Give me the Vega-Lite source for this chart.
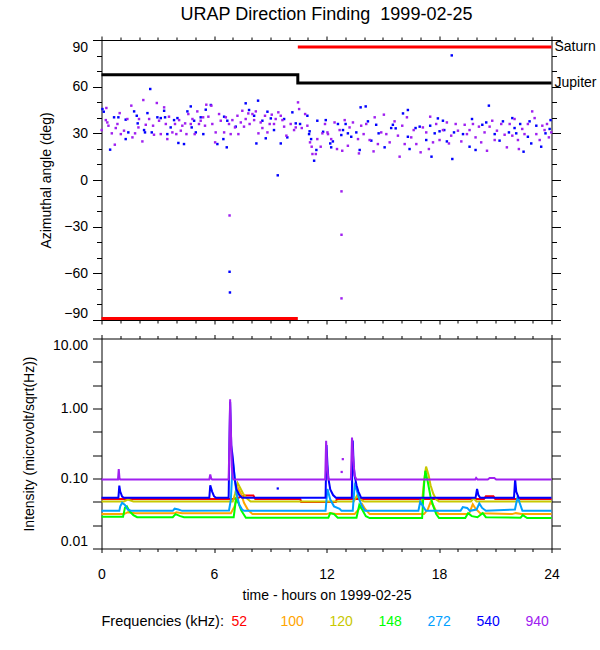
{
"$schema": "https://vega.github.io/schema/vega-lite/v6.json",
"padding": {"left": 21.5, "top": 5, "right": 0, "bottom": 5},
"config": {
  "font": "Liberation Sans",
  "view": {"stroke": "black", "strokeWidth": 1},
  "axis": {"labelFont": "Liberation Sans", "labelFontSize": 14, "labelColor": "black", "titleFont": "Liberation Sans", "titleFontSize": 14, "titleFontWeight": "normal", "titleColor": "black", "tickColor": "black", "tickWidth": 1, "domain": false, "grid": false},
  "title": {"font": "Liberation Sans", "fontSize": 18, "fontWeight": "normal", "color": "black"}
},
"resolve": {"legend": {"color": "independent"}},
"spacing": 8.5,
"datasets": {
  "df": [
{"t":0.05,"a":45.6,"f":540},{"t":0.12,"a":43.9,"f":540},{"t":0.46,"a":19.5,"f":540},{"t":0.67,"a":40.3,"f":540},{"t":0.9,"a":40.3,"f":540},{"t":1.29,"a":38.8,"f":540},{"t":1.29,"a":26.3,"f":540},{"t":1.43,"a":30.6,"f":540},{"t":1.74,"a":44.1,"f":540},{"t":1.88,"a":41.3,"f":540},{"t":1.93,"a":36.4,"f":540},{"t":2.27,"a":32.1,"f":540},{"t":2.32,"a":30.6,"f":540},{"t":2.45,"a":43,"f":540},{"t":2.6,"a":58.5,"f":540},{"t":2.68,"a":30.6,"f":540},{"t":2.98,"a":40.3,"f":540},{"t":3.16,"a":39.8,"f":540},{"t":3.34,"a":44.5,"f":540},{"t":3.39,"a":40.3,"f":540},{"t":3.51,"a":29.5,"f":540},{"t":3.69,"a":33.8,"f":540},{"t":3.87,"a":38.5,"f":540},{"t":4.05,"a":39.8,"f":540},{"t":4.1,"a":23.8,"f":540},{"t":4.4,"a":23.1,"f":540},{"t":4.58,"a":44.1,"f":540},{"t":4.76,"a":47.3,"f":540},{"t":4.81,"a":33.8,"f":540},{"t":4.94,"a":38.1,"f":540},{"t":5.03,"a":30.6,"f":540},{"t":5.29,"a":40.3,"f":540},{"t":5.43,"a":29.5,"f":540},{"t":5.56,"a":45.2,"f":540},{"t":5.83,"a":48.2,"f":540},{"t":6.18,"a":23.1,"f":540},{"t":6.5,"a":26.3,"f":540},{"t":6.54,"a":40.7,"f":540},{"t":6.68,"a":21,"f":540},{"t":6.71,"a":38.1,"f":540},{"t":6.83,"a":-59,"f":540},{"t":6.85,"a":-72.3,"f":540},{"t":7.16,"a":34.3,"f":540},{"t":7.69,"a":49.3,"f":540},{"t":7.87,"a":45,"f":540},{"t":8.14,"a":41.3,"f":540},{"t":8.26,"a":23.5,"f":540},{"t":8.35,"a":51,"f":540},{"t":8.58,"a":38.1,"f":540},{"t":8.76,"a":26.8,"f":540},{"t":8.85,"a":43.9,"f":540},{"t":9.03,"a":39.6,"f":540},{"t":9.2,"a":32.1,"f":540},{"t":9.4,"a":3,"f":540},{"t":9.56,"a":23.5,"f":540},{"t":9.74,"a":39.2,"f":540},{"t":9.91,"a":27.4,"f":540},{"t":10.18,"a":43.5,"f":540},{"t":10.36,"a":36.4,"f":540},{"t":10.59,"a":36,"f":540},{"t":10.98,"a":41.3,"f":540},{"t":11.07,"a":29.5,"f":540},{"t":11.1,"a":31.3,"f":540},{"t":11.18,"a":26.3,"f":540},{"t":11.34,"a":12.4,"f":540},{"t":11.46,"a":19.3,"f":540},{"t":11.51,"a":38.1,"f":540},{"t":11.82,"a":31,"f":540},{"t":11.96,"a":38.5,"f":540},
{"t":12.2,"a":23.5,"f":540},{"t":12.25,"a":21,"f":540},{"t":12.34,"a":24.8,"f":540},{"t":12.61,"a":36,"f":540},{"t":12.79,"a":28.9,"f":540},{"t":12.88,"a":32.1,"f":540},{"t":13.02,"a":36,"f":540},{"t":13.14,"a":30,"f":540},{"t":13.32,"a":27.8,"f":540},{"t":13.59,"a":30.6,"f":540},{"t":13.77,"a":19.3,"f":540},{"t":13.82,"a":46.7,"f":540},{"t":14.09,"a":47.3,"f":540},{"t":14.21,"a":37.7,"f":540},{"t":14.39,"a":25.3,"f":540},{"t":14.65,"a":35.5,"f":540},{"t":14.78,"a":30,"f":540},{"t":15.1,"a":21,"f":540},{"t":15.45,"a":33.4,"f":540},{"t":15.54,"a":35.5,"f":540},{"t":15.69,"a":33.2,"f":540},{"t":16.08,"a":42.8,"f":540},{"t":16.34,"a":45,"f":540},{"t":16.34,"a":27.8,"f":540},{"t":16.43,"a":19.9,"f":540},{"t":16.75,"a":33.4,"f":540},{"t":16.97,"a":34.3,"f":540},{"t":17.32,"a":25.7,"f":540},{"t":17.53,"a":34.9,"f":540},{"t":17.6,"a":15,"f":540},{"t":17.77,"a":30,"f":540},{"t":17.94,"a":39.6,"f":540},{"t":18.03,"a":31.3,"f":540},{"t":18.21,"a":38.1,"f":540},{"t":18.28,"a":32.1,"f":540},{"t":18.42,"a":24.8,"f":540},{"t":18.68,"a":80.1,"f":540},{"t":18.71,"a":13.5,"f":540},{"t":18.8,"a":30.6,"f":540},{"t":19.28,"a":29.5,"f":540},{"t":19.63,"a":21.4,"f":540},{"t":19.76,"a":39.2,"f":540},{"t":19.95,"a":19.3,"f":540},{"t":20.31,"a":35.5,"f":540},{"t":20.52,"a":37,"f":540},{"t":20.66,"a":47.8,"f":540},{"t":20.97,"a":29.5,"f":540},{"t":21.23,"a":25.3,"f":540},{"t":21.41,"a":37.7,"f":540},{"t":21.73,"a":30.6,"f":540},{"t":21.91,"a":39.8,"f":540},{"t":22.03,"a":33.4,"f":540},{"t":22.12,"a":30,"f":540},{"t":22.33,"a":36,"f":540},{"t":22.51,"a":18.2,"f":540},{"t":22.74,"a":27.8,"f":540},{"t":22.83,"a":37.7,"f":540},{"t":22.92,"a":23.5,"f":540},{"t":23.19,"a":34.9,"f":540},{"t":23.45,"a":21.4,"f":540},{"t":23.68,"a":30,"f":540},{"t":23.9,"a":32.8,"f":540},{"t":23.95,"a":38.5,"f":540},
{"t":0.01,"a":32.1,"f":940},{"t":0.26,"a":46.3,"f":940},{"t":0.23,"a":38.5,"f":940},{"t":0.31,"a":37,"f":940},{"t":0.37,"a":34.9,"f":940},{"t":0.55,"a":30,"f":940},{"t":0.71,"a":22.7,"f":940},{"t":0.76,"a":33.4,"f":940},{"t":0.85,"a":36,"f":940},{"t":0.97,"a":43,"f":940},{"t":1.03,"a":29.5,"f":940},{"t":1.2,"a":31.7,"f":940},{"t":1.38,"a":39.2,"f":940},{"t":1.59,"a":47.8,"f":940},{"t":1.65,"a":27.4,"f":940},{"t":1.79,"a":30,"f":940},{"t":1.97,"a":33.8,"f":940},{"t":2.0,"a":39.2,"f":940},{"t":2.18,"a":24.8,"f":940},{"t":2.23,"a":51.4,"f":940},{"t":2.36,"a":35.5,"f":940},{"t":2.54,"a":39.2,"f":940},{"t":2.75,"a":34.9,"f":940},{"t":2.8,"a":29.1,"f":940},{"t":2.95,"a":49.5,"f":940},{"t":3.07,"a":38.1,"f":940},{"t":3.16,"a":29.5,"f":940},{"t":3.34,"a":46.7,"f":940},{"t":3.43,"a":36,"f":940},{"t":3.51,"a":26.3,"f":940},{"t":3.6,"a":40.7,"f":940},{"t":3.78,"a":30.6,"f":940},{"t":3.92,"a":36,"f":940},{"t":3.99,"a":29.5,"f":940},{"t":4.14,"a":38.5,"f":940},{"t":4.23,"a":31.7,"f":940},{"t":4.31,"a":34.9,"f":940},{"t":4.46,"a":36.4,"f":940},{"t":4.53,"a":29.5,"f":940},{"t":4.63,"a":42.4,"f":940},{"t":4.76,"a":36,"f":940},{"t":4.85,"a":39.2,"f":940},{"t":4.97,"a":29.5,"f":940},{"t":5.11,"a":44.1,"f":940},{"t":5.2,"a":36,"f":940},{"t":5.29,"a":38.1,"f":940},{"t":5.42,"a":40.3,"f":940},{"t":5.52,"a":34.9,"f":940},{"t":5.59,"a":48.4,"f":940},{"t":5.7,"a":40.7,"f":940},{"t":5.86,"a":47.8,"f":940},{"t":5.91,"a":36,"f":940},{"t":6.06,"a":24.2,"f":940},{"t":6.09,"a":30.6,"f":940},{"t":6.27,"a":42.4,"f":940},{"t":6.36,"a":38.1,"f":940},{"t":6.54,"a":30.6,"f":940},{"t":6.63,"a":40.3,"f":940},{"t":6.8,"a":36,"f":940},{"t":6.83,"a":-22.8,"f":940},{"t":6.89,"a":29.5,"f":940},{"t":6.98,"a":38.5,"f":940},{"t":7.12,"a":33.8,"f":940},{"t":7.25,"a":41.3,"f":940},{"t":7.3,"a":29.5,"f":940},{"t":7.43,"a":37,"f":940},{"t":7.51,"a":44.5,"f":940},{"t":7.6,"a":34.3,"f":940},{"t":7.69,"a":39.2,"f":940},{"t":7.83,"a":42.8,"f":940},{"t":7.9,"a":36,"f":940},{"t":8.05,"a":42.4,"f":940},{"t":8.14,"a":38.5,"f":940},{"t":8.23,"a":44.1,"f":940},{"t":8.37,"a":30,"f":940},{"t":8.49,"a":37,"f":940},{"t":8.58,"a":33.4,"f":940},{"t":8.72,"a":41.3,"f":940},{"t":8.85,"a":30.6,"f":940},{"t":8.97,"a":36,"f":940},{"t":9.08,"a":42,"f":940},{"t":9.2,"a":36,"f":940},{"t":9.29,"a":39.2,"f":940},{"t":9.43,"a":43.5,"f":940},{"t":9.56,"a":41.3,"f":940},{"t":9.65,"a":38.5,"f":940},{"t":9.74,"a":34.3,"f":940},{"t":9.86,"a":28.5,"f":940},{"t":10.09,"a":36,"f":940},{"t":10.27,"a":32.1,"f":940},{"t":10.36,"a":33.8,"f":940},{"t":10.48,"a":49.9,"f":940},{"t":10.54,"a":45.6,"f":940},{"t":10.68,"a":33.4,"f":940},{"t":10.86,"a":42.4,"f":940},{"t":10.98,"a":34.9,"f":940},{"t":11.12,"a":24.2,"f":940},{"t":11.21,"a":21.4,"f":940},{"t":11.25,"a":16.7,"f":940},{"t":11.43,"a":16.7,"f":940},{"t":11.51,"a":26.3,"f":940},{"t":11.69,"a":21.4,"f":940},{"t":11.78,"a":30,"f":940},{"t":11.92,"a":36,"f":940},{"t":12.05,"a":30.6,"f":940},
{"t":12.08,"a":29.5,"f":940},{"t":12.25,"a":26.3,"f":940},{"t":12.43,"a":37,"f":940},{"t":12.56,"a":19.9,"f":940},{"t":12.7,"a":32.1,"f":940},{"t":12.8,"a":-7.3,"f":940},{"t":12.8,"a":-35.2,"f":940},{"t":12.8,"a":-76.1,"f":940},{"t":12.84,"a":18.8,"f":940},{"t":12.97,"a":38.5,"f":940},{"t":13.14,"a":22,"f":940},{"t":13.23,"a":33.8,"f":940},{"t":13.41,"a":37,"f":940},{"t":13.68,"a":26.3,"f":940},{"t":13.73,"a":17.1,"f":940},{"t":13.85,"a":34.9,"f":940},{"t":13.98,"a":29.5,"f":940},{"t":14.12,"a":36,"f":940},{"t":14.3,"a":25.7,"f":940},{"t":14.51,"a":18.4,"f":940},{"t":14.57,"a":40.3,"f":940},{"t":14.74,"a":23.1,"f":940},{"t":14.92,"a":30.6,"f":940},{"t":15.06,"a":42,"f":940},{"t":15.19,"a":29.5,"f":940},{"t":15.37,"a":24.2,"f":940},{"t":15.63,"a":37.7,"f":940},{"t":15.81,"a":28.5,"f":940},{"t":15.9,"a":15,"f":940},{"t":16.04,"a":34.9,"f":940},{"t":16.17,"a":23.1,"f":940},{"t":16.29,"a":40.3,"f":940},{"t":16.52,"a":27.4,"f":940},{"t":16.65,"a":32.1,"f":940},{"t":16.79,"a":23.1,"f":940},{"t":17.02,"a":17.8,"f":940},{"t":17.14,"a":33.8,"f":940},{"t":17.32,"a":30.6,"f":940},{"t":17.46,"a":19.9,"f":940},{"t":17.53,"a":40.7,"f":940},{"t":17.68,"a":24.2,"f":940},{"t":17.85,"a":36,"f":940},{"t":18.03,"a":25.7,"f":940},{"t":18.21,"a":32.1,"f":940},{"t":18.42,"a":37,"f":940},{"t":18.53,"a":23.5,"f":940},{"t":18.65,"a":28.5,"f":940},{"t":18.89,"a":36,"f":940},{"t":19.01,"a":31.7,"f":940},{"t":19.19,"a":24.8,"f":940},{"t":19.37,"a":35.5,"f":940},{"t":19.49,"a":29.5,"f":940},{"t":19.63,"a":32.1,"f":940},{"t":19.81,"a":36,"f":940},{"t":19.95,"a":27.4,"f":940},{"t":20.13,"a":34.3,"f":940},{"t":20.25,"a":24.2,"f":940},{"t":20.43,"a":30.6,"f":940},{"t":20.56,"a":18.8,"f":940},{"t":20.7,"a":34.3,"f":940},{"t":20.84,"a":38.1,"f":940},{"t":20.97,"a":25.7,"f":940},{"t":21.09,"a":31.7,"f":940},{"t":21.32,"a":36,"f":940},{"t":21.5,"a":29.1,"f":940},{"t":21.62,"a":21,"f":940},{"t":21.77,"a":36,"f":940},{"t":21.91,"a":28.5,"f":940},{"t":22.03,"a":39.2,"f":940},{"t":22.21,"a":25.7,"f":940},{"t":22.26,"a":19.9,"f":940},{"t":22.44,"a":32.8,"f":940},{"t":22.56,"a":29.5,"f":940},{"t":22.74,"a":36,"f":940},{"t":22.97,"a":44.1,"f":940},{"t":23.1,"a":39.8,"f":940},{"t":23.19,"a":29.5,"f":940},{"t":23.37,"a":25.7,"f":940},{"t":23.51,"a":34.9,"f":940},{"t":23.63,"a":32.1,"f":940},{"t":23.76,"a":36,"f":940},{"t":23.86,"a":27.4,"f":940},{"t":23.99,"a":30.6,"f":940}
  ],
  "jup": [{"t":0,"a":67.6},{"t":10.47,"a":67.6},{"t":10.47,"a":62.4},{"t":24,"a":62.4}],
  "sat": [{"t":0,"a":-89,"seg":1},{"t":10.47,"a":-89,"seg":1},{"t":10.47,"a":85.5,"seg":2},{"t":24,"a":85.5,"seg":2}],
  "names": [{"t":24,"a":85.5,"label":"Saturn"},{"t":24,"a":62.4,"label":"Jupiter"}],
  "inten": [
{"t":0,"v":0.051,"f":52},{"t":7.0,"v":0.051,"f":52},{"t":7.3,"v":0.053,"f":52},{"t":7.6,"v":0.057,"f":52},{"t":8.1,"v":0.057,"f":52},{"t":8.2,"v":0.051,"f":52},{"t":10.6,"v":0.051,"f":52},{"t":10.65,"v":0.046,"f":52},{"t":12.5,"v":0.046,"f":52},{"t":12.55,"v":0.051,"f":52},{"t":20.4,"v":0.051,"f":52},{"t":20.5,"v":0.056,"f":52},{"t":20.9,"v":0.056,"f":52},{"t":21.0,"v":0.051,"f":52},{"t":24,"v":0.051,"f":52},
{"t":0,"v":0.031,"f":100},{"t":1.2,"v":0.031,"f":100},{"t":1.4,"v":0.033,"f":100},{"t":1.8,"v":0.032,"f":100},{"t":3.9,"v":0.032,"f":100},{"t":4.0,"v":0.033,"f":100},{"t":4.3,"v":0.032,"f":100},{"t":6.9,"v":0.032,"f":100},{"t":7.1,"v":0.04,"f":100},{"t":7.3,"v":0.071,"f":100},{"t":7.45,"v":0.06,"f":100},{"t":7.6,"v":0.045,"f":100},{"t":7.8,"v":0.036,"f":100},{"t":8.05,"v":0.031,"f":100},{"t":12.0,"v":0.031,"f":100},{"t":12.2,"v":0.032,"f":100},{"t":12.5,"v":0.031,"f":100},{"t":13.5,"v":0.031,"f":100},{"t":13.7,"v":0.036,"f":100},{"t":13.9,"v":0.043,"f":100},{"t":14.05,"v":0.037,"f":100},{"t":14.3,"v":0.031,"f":100},{"t":17.2,"v":0.031,"f":100},{"t":17.4,"v":0.036,"f":100},{"t":17.55,"v":0.046,"f":100},{"t":17.7,"v":0.041,"f":100},{"t":17.85,"v":0.034,"f":100},{"t":18.0,"v":0.031,"f":100},{"t":19.6,"v":0.031,"f":100},{"t":19.8,"v":0.043,"f":100},{"t":19.95,"v":0.037,"f":100},{"t":20.2,"v":0.032,"f":100},{"t":21.9,"v":0.031,"f":100},{"t":22.1,"v":0.032,"f":100},{"t":22.4,"v":0.031,"f":100},{"t":24,"v":0.031,"f":100},
{"t":0,"v":0.047,"f":120},{"t":1.2,"v":0.047,"f":120},{"t":1.4,"v":0.05,"f":120},{"t":1.7,"v":0.047,"f":120},{"t":7.0,"v":0.047,"f":120},{"t":7.12,"v":0.06,"f":120},{"t":7.26,"v":0.086,"f":120},{"t":7.4,"v":0.073,"f":120},{"t":7.55,"v":0.061,"f":120},{"t":7.75,"v":0.052,"f":120},{"t":7.95,"v":0.047,"f":120},{"t":13.45,"v":0.047,"f":120},{"t":13.63,"v":0.057,"f":120},{"t":13.8,"v":0.05,"f":120},{"t":14.0,"v":0.047,"f":120},{"t":17.1,"v":0.047,"f":120},{"t":17.2,"v":0.09,"f":120},{"t":17.31,"v":0.148,"f":120},{"t":17.45,"v":0.11,"f":120},{"t":17.55,"v":0.08,"f":120},{"t":17.7,"v":0.06,"f":120},{"t":17.85,"v":0.05,"f":120},{"t":18.0,"v":0.047,"f":120},{"t":19.7,"v":0.047,"f":120},{"t":19.85,"v":0.052,"f":120},{"t":20.0,"v":0.047,"f":120},{"t":24,"v":0.047,"f":120},
{"t":0,"v":0.0285,"f":148},{"t":1.15,"v":0.0285,"f":148},{"t":1.25,"v":0.038,"f":148},{"t":1.35,"v":0.04,"f":148},{"t":1.5,"v":0.034,"f":148},{"t":1.7,"v":0.03,"f":148},{"t":1.9,"v":0.028,"f":148},{"t":3.8,"v":0.028,"f":148},{"t":3.95,"v":0.031,"f":148},{"t":4.2,"v":0.029,"f":148},{"t":4.4,"v":0.028,"f":148},{"t":7.05,"v":0.028,"f":148},{"t":7.17,"v":0.05,"f":148},{"t":7.3,"v":0.045,"f":148},{"t":7.45,"v":0.035,"f":148},{"t":7.7,"v":0.0275,"f":148},{"t":12.1,"v":0.0275,"f":148},{"t":12.2,"v":0.032,"f":148},{"t":12.4,"v":0.031,"f":148},{"t":12.6,"v":0.0275,"f":148},{"t":13.6,"v":0.0275,"f":148},{"t":13.75,"v":0.042,"f":148},{"t":13.9,"v":0.036,"f":148},{"t":14.1,"v":0.029,"f":148},{"t":14.3,"v":0.0272,"f":148},{"t":17.1,"v":0.0272,"f":148},{"t":17.2,"v":0.08,"f":148},{"t":17.27,"v":0.129,"f":148},{"t":17.4,"v":0.09,"f":148},{"t":17.55,"v":0.055,"f":148},{"t":17.7,"v":0.04,"f":148},{"t":17.85,"v":0.031,"f":148},{"t":18.0,"v":0.0272,"f":148},{"t":19.4,"v":0.0272,"f":148},{"t":19.55,"v":0.032,"f":148},{"t":19.75,"v":0.029,"f":148},{"t":20.05,"v":0.028,"f":148},{"t":20.33,"v":0.032,"f":148},{"t":20.5,"v":0.028,"f":148},{"t":22.35,"v":0.0275,"f":148},{"t":22.47,"v":0.03,"f":148},{"t":22.7,"v":0.0272,"f":148},{"t":24,"v":0.0272,"f":148},
{"t":0,"v":0.0345,"f":272},{"t":0.95,"v":0.0345,"f":272},{"t":1.0,"v":0.04,"f":272},{"t":1.1,"v":0.045,"f":272},{"t":1.25,"v":0.042,"f":272},{"t":1.4,"v":0.036,"f":272},{"t":1.6,"v":0.0345,"f":272},{"t":3.8,"v":0.0345,"f":272},{"t":3.9,"v":0.037,"f":272},{"t":4.1,"v":0.036,"f":272},{"t":4.3,"v":0.0345,"f":272},{"t":6.8,"v":0.035,"f":272},{"t":6.9,"v":0.05,"f":272},{"t":7.0,"v":0.178,"f":272},{"t":7.08,"v":0.12,"f":272},{"t":7.2,"v":0.06,"f":272},{"t":7.35,"v":0.042,"f":272},{"t":7.5,"v":0.036,"f":272},{"t":7.6,"v":0.0345,"f":272},{"t":11.95,"v":0.0345,"f":272},{"t":12.05,"v":0.071,"f":272},{"t":12.2,"v":0.05,"f":272},{"t":12.4,"v":0.04,"f":272},{"t":12.7,"v":0.037,"f":272},{"t":12.8,"v":0.0345,"f":272},{"t":13.4,"v":0.0345,"f":272},{"t":13.5,"v":0.08,"f":272},{"t":13.6,"v":0.07,"f":272},{"t":13.75,"v":0.05,"f":272},{"t":13.9,"v":0.04,"f":272},{"t":14.05,"v":0.0345,"f":272},{"t":16.9,"v":0.0345,"f":272},{"t":17.0,"v":0.0465,"f":272},{"t":17.15,"v":0.04,"f":272},{"t":17.3,"v":0.0345,"f":272},{"t":19.15,"v":0.0345,"f":272},{"t":19.27,"v":0.039,"f":272},{"t":19.5,"v":0.038,"f":272},{"t":19.65,"v":0.0345,"f":272},{"t":20.0,"v":0.036,"f":272},{"t":20.15,"v":0.044,"f":272},{"t":20.3,"v":0.038,"f":272},{"t":20.5,"v":0.0345,"f":272},{"t":22.05,"v":0.036,"f":272},{"t":22.2,"v":0.056,"f":272},{"t":22.3,"v":0.045,"f":272},{"t":22.45,"v":0.0345,"f":272},{"t":24,"v":0.0345,"f":272},
{"t":0,"v":0.053,"f":540},{"t":0.9,"v":0.053,"f":540},{"t":0.95,"v":0.079,"f":540},{"t":1.0,"v":0.065,"f":540},{"t":1.1,"v":0.055,"f":540},{"t":1.2,"v":0.053,"f":540},{"t":5.75,"v":0.053,"f":540},{"t":5.8,"v":0.08,"f":540},{"t":5.9,"v":0.065,"f":540},{"t":6.0,"v":0.056,"f":540},{"t":6.1,"v":0.053,"f":540},{"t":6.78,"v":0.053,"f":540},{"t":6.83,"v":0.4,"f":540},{"t":6.86,"v":1.25,"f":540},{"t":6.92,"v":0.3,"f":540},{"t":7.0,"v":0.2,"f":540},{"t":7.1,"v":0.1,"f":540},{"t":7.2,"v":0.07,"f":540},{"t":7.35,"v":0.058,"f":540},{"t":7.5,"v":0.053,"f":540},{"t":11.95,"v":0.053,"f":540},{"t":12.0,"v":0.3,"f":540},{"t":12.05,"v":0.16,"f":540},{"t":12.1,"v":0.1,"f":540},{"t":12.2,"v":0.07,"f":540},{"t":12.35,"v":0.058,"f":540},{"t":12.5,"v":0.053,"f":540},{"t":13.35,"v":0.053,"f":540},{"t":13.4,"v":0.35,"f":540},{"t":13.45,"v":0.15,"f":540},{"t":13.5,"v":0.11,"f":540},{"t":13.6,"v":0.08,"f":540},{"t":13.7,"v":0.065,"f":540},{"t":13.85,"v":0.053,"f":540},{"t":19.95,"v":0.053,"f":540},{"t":20.03,"v":0.071,"f":540},{"t":20.1,"v":0.058,"f":540},{"t":20.2,"v":0.053,"f":540},{"t":22.0,"v":0.053,"f":540},{"t":22.06,"v":0.098,"f":540},{"t":22.12,"v":0.065,"f":540},{"t":22.25,"v":0.053,"f":540},{"t":24,"v":0.053,"f":540},
{"t":0,"v":0.097,"f":940},{"t":0.88,"v":0.097,"f":940},{"t":0.92,"v":0.136,"f":940},{"t":0.96,"v":0.1,"f":940},{"t":1.0,"v":0.097,"f":940},{"t":5.75,"v":0.097,"f":940},{"t":5.8,"v":0.114,"f":940},{"t":5.85,"v":0.1,"f":940},{"t":5.9,"v":0.097,"f":940},{"t":6.78,"v":0.097,"f":940},{"t":6.82,"v":0.3,"f":940},{"t":6.86,"v":1.36,"f":940},{"t":6.9,"v":0.5,"f":940},{"t":6.95,"v":0.15,"f":940},{"t":7.0,"v":0.1,"f":940},{"t":7.05,"v":0.097,"f":940},{"t":11.93,"v":0.097,"f":940},{"t":11.98,"v":0.345,"f":940},{"t":12.03,"v":0.15,"f":940},{"t":12.1,"v":0.097,"f":940},{"t":13.3,"v":0.097,"f":940},{"t":13.36,"v":0.385,"f":940},{"t":13.42,"v":0.2,"f":940},{"t":13.5,"v":0.11,"f":940},{"t":13.6,"v":0.097,"f":940},{"t":19.93,"v":0.097,"f":940},{"t":19.98,"v":0.102,"f":940},{"t":20.05,"v":0.097,"f":940},{"t":20.6,"v":0.097,"f":940},{"t":20.7,"v":0.102,"f":940},{"t":20.95,"v":0.102,"f":940},{"t":21.05,"v":0.097,"f":940},{"t":24,"v":0.097,"f":940}
  ],
  "idots": [{"t":9.4,"v":0.072,"f":540},{"t":12.81,"v":0.124,"f":940},{"t":12.87,"v":0.189,"f":940}]
},
"vconcat": [
{
  "width": 450, "height": 280,
  "title": {"text": "URAP Direction Finding \u00a01999-02-25", "frame": "group", "anchor": "middle", "offset": 11.5},
  "resolve": {"axis": {"x": "independent", "y": "independent"}},
  "layer": [
    {"data": {"name": "df"},
     "mark": {"type": "square", "size": 6, "opacity": 1},
     "encoding": {
       "x": {"field": "t", "type": "quantitative", "scale": {"domain": [0, 24], "nice": false}, "axis": {"orient": "bottom", "values": [0, 6, 12, 18, 24], "labels": false, "tickSize": 4, "title": null}},
       "y": {"field": "a", "type": "quantitative", "scale": {"domain": [-90, 90], "nice": false}, "axis": {"orient": "left", "values": [-90, -60, -30, 0, 30, 60, 90], "tickSize": 9, "labelPadding": 5, "labelFlush": true, "title": "Azimuthal angle (deg)", "titlePadding": 10}},
       "color": {"field": "f", "type": "ordinal", "scale": {"domain": [52, 100, 120, 148, 272, 540, 940], "range": ["#ff0000", "#ffa500", "#c8c800", "#00ff00", "#00a0ff", "#0000ff", "#a020f0"]}, "legend": null}
     }},
    {"data": {"name": "jup"},
     "mark": {"type": "line", "color": "black", "strokeWidth": 3, "interpolate": "linear"},
     "encoding": {"x": {"field": "t", "type": "quantitative", "sort": null, "scale": {"domain": [0, 24], "nice": false}, "axis": null}, "y": {"field": "a", "type": "quantitative", "scale": {"domain": [-90, 90], "nice": false}, "axis": null}, "order": {"field": "t"}}},
    {"data": {"name": "sat"},
     "mark": {"type": "line", "color": "#ff0000", "strokeWidth": 3},
     "encoding": {"x": {"field": "t", "type": "quantitative", "scale": {"domain": [0, 24], "nice": false}, "axis": null}, "y": {"field": "a", "type": "quantitative", "scale": {"domain": [-90, 90], "nice": false}, "axis": null}, "detail": {"field": "seg", "type": "nominal"}}},
    {"data": {"name": "names"},
     "mark": {"type": "text", "align": "left", "baseline": "middle", "dx": 3, "fontSize": 14, "color": "black"},
     "encoding": {"x": {"field": "t", "type": "quantitative", "scale": {"domain": [0, 24], "nice": false}, "axis": {"orient": "top", "values": [0, 6, 12, 18, 24], "labels": false, "tickSize": 4, "title": null}}, "y": {"field": "a", "type": "quantitative", "scale": {"domain": [-90, 90], "nice": false}, "axis": {"orient": "right", "values": [-90, -60, -30, 0, 30, 60, 90], "labels": false, "tickSize": 9, "title": null}}, "text": {"field": "label"}}},
    {"data": {"name": "names"},
     "mark": {"type": "point", "opacity": 0},
     "encoding": {"x": {"field": "t", "type": "quantitative", "scale": {"domain": [0, 24], "nice": false}, "axis": {"orient": "bottom", "values": [1,2,3,4,5,7,8,9,10,11,13,14,15,16,17,19,20,21,22,23], "labels": false, "tickSize": 3, "title": null}}, "y": {"field": "a", "type": "quantitative", "scale": {"domain": [-90, 90], "nice": false}, "axis": {"orient": "left", "values": [-80,-70,-50,-40,-20,-10,10,20,40,50,70,80], "labels": false, "tickSize": 5, "title": null}}}},
    {"data": {"name": "names"},
     "mark": {"type": "point", "opacity": 0},
     "encoding": {"x": {"field": "t", "type": "quantitative", "scale": {"domain": [0, 24], "nice": false}, "axis": {"orient": "top", "values": [1,2,3,4,5,7,8,9,10,11,13,14,15,16,17,19,20,21,22,23], "labels": false, "tickSize": 3, "title": null}}, "y": {"field": "a", "type": "quantitative", "scale": {"domain": [-90, 90], "nice": false}, "axis": {"orient": "right", "values": [-80,-70,-50,-40,-20,-10,10,20,40,50,70,80], "labels": false, "tickSize": 5, "title": null}}}}
  ]
},
{
  "width": 450, "height": 210,
  "resolve": {"axis": {"x": "independent", "y": "independent"}},
  "layer": [
    {"data": {"name": "inten"},
     "mark": {"type": "line", "strokeWidth": 2},
     "encoding": {
       "x": {"field": "t", "type": "quantitative", "scale": {"domain": [0, 24], "nice": false}, "axis": {"orient": "bottom", "values": [0, 6, 12, 18, 24], "tickSize": 4, "labelPadding": 15, "labelFlush": false, "title": "time - hours on 1999-02-25", "titlePadding": 7}},
       "y": {"field": "v", "type": "quantitative", "scale": {"type": "log", "domain": [0.01, 10], "nice": false}, "axis": {"orient": "left", "values": [0.01, 0.1, 1, 10], "format": ".2f", "tickSize": 9, "labelPadding": 5, "labelFlush": true, "title": "Intensity (microvolt/sqrt(Hz))", "titlePadding": 16}},
       "color": {"field": "f", "type": "ordinal", "scale": {"domain": [52, 100, 120, 148, 272, 540, 940], "range": ["#ff0000", "#ffa500", "#c8c800", "#00ff00", "#00a0ff", "#0000ff", "#a020f0"]},
         "legend": {"orient": "none", "legendX": 0, "legendY": 276, "direction": "horizontal", "columns": 7, "gridAlign": "all", "title": "Frequencies (kHz):", "titleOrient": "left", "titleFontSize": 14.5, "titleFontWeight": "normal", "titleColor": "black", "titlePadding": 8, "titleFont": "Liberation Sans", "labelFont": "Liberation Sans", "labelFontSize": 14, "labelOffset": -15, "symbolSize": 0, "symbolOpacity": 0, "symbolStrokeWidth": 0, "columnPadding": 25, "padding": 0,
           "encode": {"labels": {"update": {"fill": {"scale": "color", "field": "value"}}}}}}
     }},
    {"data": {"name": "idots"},
     "mark": {"type": "square", "size": 5, "opacity": 1},
     "encoding": {"x": {"field": "t", "type": "quantitative", "scale": {"domain": [0, 24], "nice": false}, "axis": {"orient": "top", "values": [0, 6, 12, 18, 24], "labels": false, "tickSize": 4, "title": null}}, "y": {"field": "v", "type": "quantitative", "scale": {"type": "log", "domain": [0.01, 10], "nice": false}, "axis": {"orient": "right", "values": [0.01, 0.1, 1, 10], "labels": false, "tickSize": 9, "title": null}}, "color": {"field": "f", "type": "ordinal", "scale": {"domain": [52, 100, 120, 148, 272, 540, 940], "range": ["#ff0000", "#ffa500", "#c8c800", "#00ff00", "#00a0ff", "#0000ff", "#a020f0"]}, "legend": null}}},
    {"data": {"name": "idots"},
     "mark": {"type": "point", "opacity": 0},
     "encoding": {"x": {"field": "t", "type": "quantitative", "scale": {"domain": [0, 24], "nice": false}, "axis": {"orient": "bottom", "values": [1,2,3,4,5,7,8,9,10,11,13,14,15,16,17,19,20,21,22,23], "labels": false, "tickSize": 3, "title": null}}, "y": {"field": "v", "type": "quantitative", "scale": {"type": "log", "domain": [0.01, 10], "nice": false}, "axis": {"orient": "left", "values": [0.0215443, 0.0464159, 0.215443, 0.464159, 2.15443, 4.64159], "labels": false, "tickSize": 9, "title": null}}}},
    {"data": {"name": "idots"},
     "mark": {"type": "point", "opacity": 0},
     "encoding": {"x": {"field": "t", "type": "quantitative", "scale": {"domain": [0, 24], "nice": false}, "axis": {"orient": "top", "values": [1,2,3,4,5,7,8,9,10,11,13,14,15,16,17,19,20,21,22,23], "labels": false, "tickSize": 3, "title": null}}, "y": {"field": "v", "type": "quantitative", "scale": {"type": "log", "domain": [0.01, 10], "nice": false}, "axis": {"orient": "right", "values": [0.0215443, 0.0464159, 0.215443, 0.464159, 2.15443, 4.64159], "labels": false, "tickSize": 9, "title": null}}}}
  ]
}
]
}
